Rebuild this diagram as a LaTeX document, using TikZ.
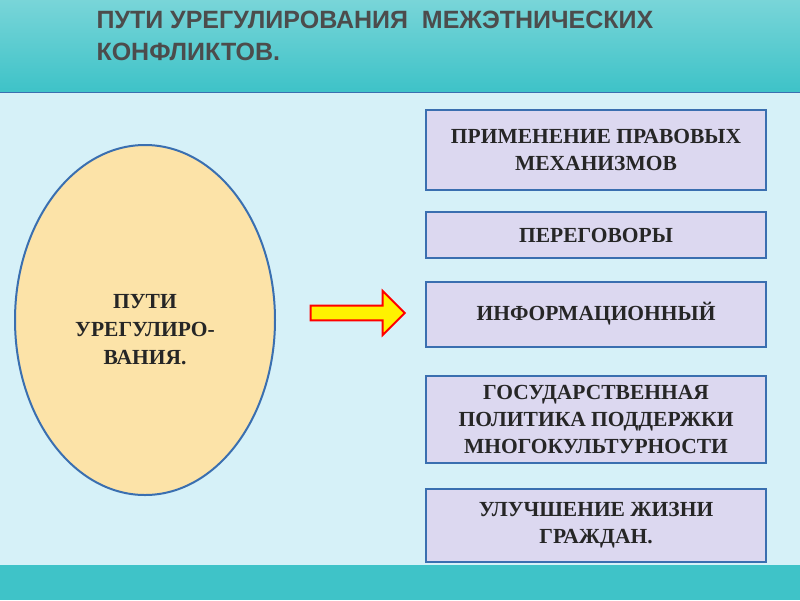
\documentclass[tikz,border=0pt]{standalone}
\usepackage{fontspec}
\setmainfont{Liberation Serif}
\newfontfamily\titlefont{Liberation Sans}
\usetikzlibrary{shapes.arrows}
\definecolor{teal1}{HTML}{3FC3C8}
\definecolor{bgmain}{HTML}{D6F1F8}
\definecolor{boxfill}{HTML}{DCD8F0}
\definecolor{boxline}{HTML}{3A6FB0}
\definecolor{ellfill}{HTML}{FCE3A8}
\tikzset{
 wbox/.style={draw=boxline,line width=2pt,fill=boxfill,minimum width=340pt,align=center,font=\bfseries\fontsize{21.5}{27}\selectfont,text=black!85},
}
\begin{document}
\begin{tikzpicture}[x=1pt,y=-1pt]
\useasboundingbox (0,0) rectangle (800,600);
\fill[teal1] (0,0) rectangle (800,600);
\shade[top color=teal1!70!white,bottom color=teal1] (0,0) rectangle (800,90);
\fill[bgmain] (0,92) rectangle (800,565);
\draw[boxline,line width=1pt] (0,92) -- (800,92);
\node[anchor=north west,align=left,font=\titlefont\bfseries\fontsize{25}{32}\selectfont,text=black!70] (title) at (93,8) {ПУТИ УРЕГУЛИРОВАНИЯ \ МЕЖЭТНИЧЕСКИХ\\КОНФЛИКТОВ.};
\draw[boxline,line width=2pt,fill=ellfill] (145,320) ellipse [x radius=130,y radius=175];
\node[align=center,font=\bfseries\fontsize{21.5}{28}\selectfont,text=black!85] (ell) at (145,330) {ПУТИ\\УРЕГУЛИРО-\\ВАНИЯ.};
\node[single arrow,draw=red,line width=2pt,fill=yellow,minimum width=44pt,single arrow head extend=6pt,minimum height=94pt,inner sep=2pt] (arr) at (354,313) {};
\node[wbox,minimum height=80pt] (b1) at (596,150) {ПРИМЕНЕНИЕ ПРАВОВЫХ\\МЕХАНИЗМОВ};
\node[wbox,minimum height=46pt] (b2) at (596,235) {ПЕРЕГОВОРЫ};
\node[wbox,minimum height=65pt] (b3) at (596,314) {ИНФОРМАЦИОННЫЙ};
\node[wbox,minimum height=87pt] (b4) at (596,419) {ГОСУДАРСТВЕННАЯ\\ПОЛИТИКА ПОДДЕРЖКИ\\МНОГОКУЛЬТУРНОСТИ};
\node[wbox,minimum height=73pt] (b5) at (596,525) {УЛУЧШЕНИЕ ЖИЗНИ\\ГРАЖДАН.};
\end{tikzpicture}
\end{document}
